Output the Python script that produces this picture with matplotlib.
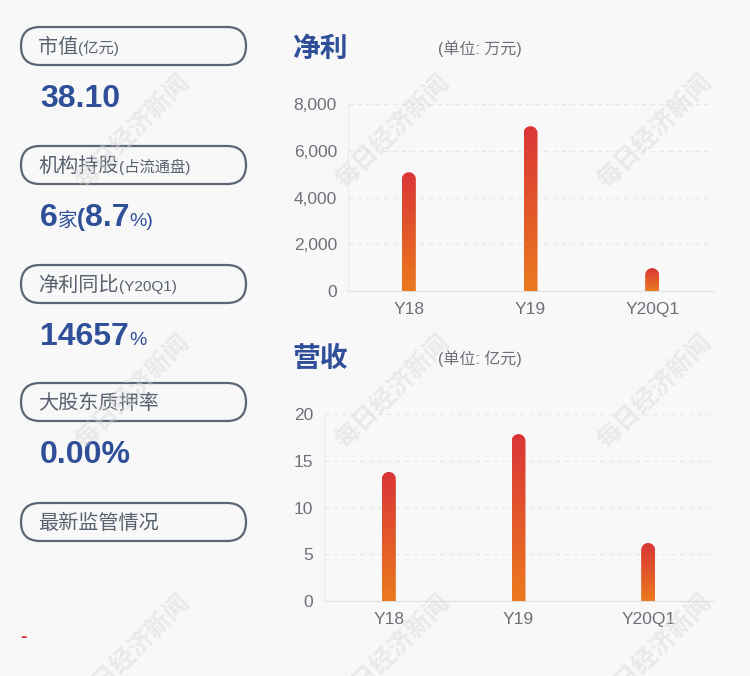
import matplotlib as mpl
import numpy as np
import matplotlib.pyplot as plt
from matplotlib.patches import FancyBboxPatch, PathPatch
from matplotlib.path import Path
from matplotlib.colors import LinearSegmentedColormap

plt.rcParams['font.family'] = ['Liberation Sans', 'Noto Sans CJK SC', 'DejaVu Sans']

# 数据
categories = ["Y18", "Y19", "Y20Q1"]
profit = [5080, 7050, 980]          # 净利 (万元)
revenue = [13.8, 17.85, 6.2]        # 营收 (亿元)
profit_ticks = [0, 2000, 4000, 6000, 8000]
revenue_ticks = [0, 5, 10, 15, 20]

pill_labels = [("市值", "(亿元)"), ("机构持股", "(占流通盘)"), ("净利同比", "(Y20Q1)"),
               ("大股东质押率", ""), ("最新监管情况", "")]
pill_values = [
    [("38.10", 23, "bold")],
    [("6", 23, "bold"), ("家", 14, "normal"), ("(", 17, "bold"), ("8.7", 23, "bold"),
     ("%)", 14, "normal")],
    [("14657", 23, "bold"), ("%", 14, "normal")],
    [("0.00%", 23, "bold")],
    [],
]

BG = "#f8f8f8"
BLUE = "#2f4f99"
GREY = "#58626f"
TICK = "#6e7079"

fig = plt.figure(figsize=(7.5, 6.76), dpi=100, facecolor=BG)

# 覆盖整图的像素坐标轴
ov = fig.add_axes([0, 0, 1, 1], zorder=5)
ov.set_xlim(0, 750)
ov.set_ylim(676, 0)
ov.axis("off")
ov.patch.set_alpha(0)
renderer = fig.canvas.get_renderer()


def runs(x, y, parts, color):
    for txt, size, weight in parts:
        t = ov.text(x, y, txt, fontsize=size, color=color, fontweight=weight,
                    va="baseline", ha="left")
        bb = t.get_window_extent(renderer=renderer)
        x += bb.width


tops = [27, 146, 265, 383, 503]
for i, (top, (lab, sub)) in enumerate(zip(tops, pill_labels)):
    box = FancyBboxPatch((21, top), 225, 38,
                         boxstyle="round,pad=0,rounding_size=19",
                         fc="none", ec="#5b6573", lw=1.6)
    ov.add_patch(box)
    parts = [(lab, 14.5, "normal")]
    if sub:
        parts.append((sub, 11, "normal"))
    runs(38, top + 26, parts, GREY)
    if pill_values[i]:
        runs(40, top + 80, pill_values[i], BLUE)

ov.text(20, 638, "-", color="#e03030", fontsize=14, fontweight="bold", va="center")

cmap = LinearSegmentedColormap.from_list("bar", ["#eb7a1e", "#da3537"])


def bar_chart(rect, values, ticks, title, unit, title_y):
    ax = fig.add_axes(rect)
    ax.set_facecolor("none")
    n = len(values)
    ax.set_xlim(-0.5, n - 0.5)
    ax.set_ylim(0, ticks[-1])
    ax.set_yticks(ticks)
    ax.set_yticklabels([f"{t:,}" for t in ticks])
    ax.set_xticks(range(n))
    ax.set_xticklabels(categories)
    ax.tick_params(length=0, labelsize=12.5, labelcolor=TICK)
    ax.tick_params(axis="x", pad=8)
    ax.tick_params(axis="y", pad=8)
    for s in ["top", "right"]:
        ax.spines[s].set_visible(False)
    ax.spines["bottom"].set_color("#e0e0e0")
    ax.spines["left"].set_color("#ececec")
    ax.grid(axis="y", color="#e6e6e6", linestyle=(0, (4, 4)), lw=0.8)
    ax.set_axisbelow(True)

    bb = ax.get_window_extent(renderer=renderer)
    w = 14 * (n / bb.width)            # 14 像素宽
    ry = 7 * (ticks[-1] / bb.height)   # 圆角半径
    grad = np.linspace(0, 1, 256).reshape(-1, 1)
    for i, v in enumerate(values):
        x0, x1 = i - w / 2, i + w / 2
        h = max(v - ry, 0)
        th = np.linspace(0, np.pi, 30)
        verts = [(x0, 0), (x1, 0), (x1, h)]
        verts += [(i + w / 2 * np.cos(t), h + ry * np.sin(t)) for t in th]
        verts += [(x0, h), (x0, 0)]
        codes = [Path.MOVETO] + [Path.LINETO] * (len(verts) - 2) + [Path.CLOSEPOLY]
        clip = PathPatch(Path(verts, codes), fc="none", ec="none", transform=ax.transData)
        ax.add_patch(clip)
        im = ax.imshow(grad, cmap=cmap, extent=[x0, x1, 0, v], origin="lower",
                       aspect="auto", zorder=3)
        im.set_clip_path(clip)
    ax.set_xlim(-0.5, n - 0.5)
    ax.set_ylim(0, ticks[-1])

    ov.text(292, title_y, title, fontsize=20, fontweight="bold", color=BLUE, va="center")
    ov.text(438, title_y - 1, unit, fontsize=11.5, color=TICK, va="center")
    return ax


bar_chart([348 / 750, (676 - 291) / 676, 365 / 750, 187 / 676], profit, profit_ticks,
          "净利", "(单位: 万元)", 50)
bar_chart([324 / 750, (676 - 601) / 676, 389 / 750, 187 / 676], revenue, revenue_ticks,
          "营收", "(单位: 亿元)", 360)

# 水印
for wx in [133, 393, 655]:
    for wy in [132, 392, 652]:
        ov.text(wx, wy, "每日经济新闻", fontsize=18, fontweight="bold", color="#d8d8d8",
                alpha=0.45, rotation=45, ha="center", va="center", rotation_mode="anchor")

fig.savefig("out.png", dpi=100, facecolor=BG)
